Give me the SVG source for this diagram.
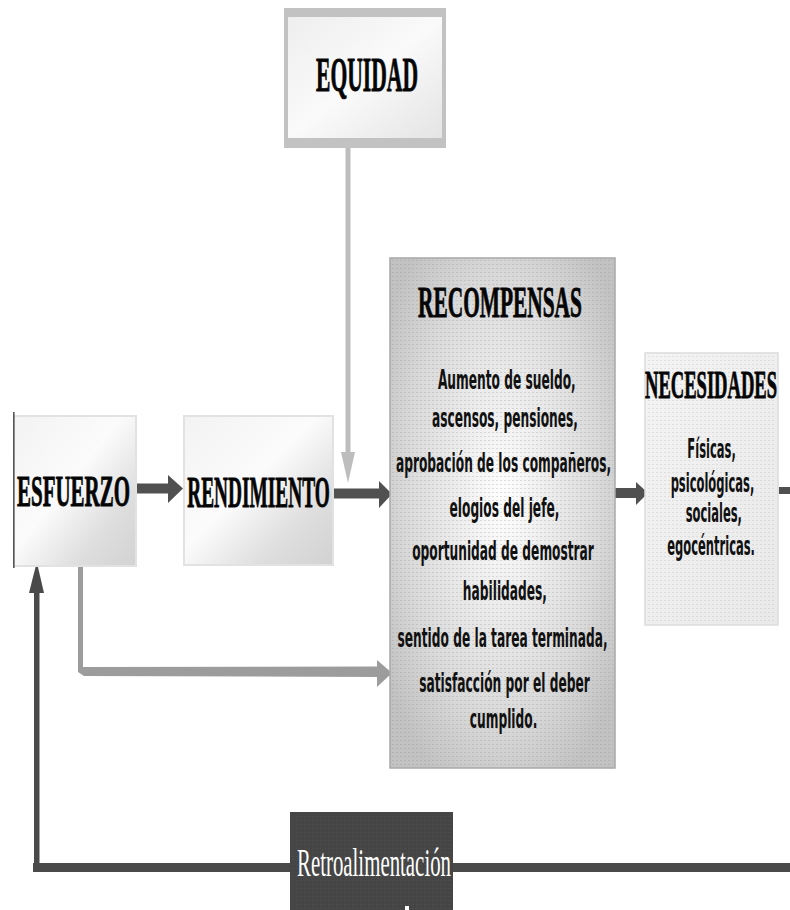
<svg xmlns="http://www.w3.org/2000/svg" width="790" height="910" viewBox="0 0 790 910">
  <style>
    .title { font-family: "Liberation Serif", "Times New Roman", serif; font-weight: bold; fill: #050505; stroke: #050505; stroke-width: 0.9; text-anchor: middle; }
    .body { font-family: "DejaVu Sans", sans-serif; font-weight: bold; font-size: 26px; fill: #111; text-anchor: middle; }
    .retro { font-family: "Liberation Serif", "Times New Roman", serif; font-size: 39px; fill: #ffffff; text-anchor: middle; }
    .dark { fill: #505050; }
    .light { fill: #bdbdbd; }
    .mid { fill: #9c9c9c; }
  </style>
  <defs>
    <linearGradient id="gBox" x1="0" y1="0" x2="1" y2="1">
      <stop offset="0" stop-color="#f3f3f3"/>
      <stop offset="0.45" stop-color="#fbfbfb"/>
      <stop offset="0.75" stop-color="#dedede"/>
      <stop offset="1" stop-color="#d2d2d2"/>
    </linearGradient>
    <linearGradient id="gEq" x1="0" y1="0" x2="1" y2="1">
      <stop offset="0" stop-color="#eeeeee"/>
      <stop offset="0.5" stop-color="#fafafa"/>
      <stop offset="1" stop-color="#e4e4e4"/>
    </linearGradient>
    <radialGradient id="gRec" cx="0.5" cy="0.47" r="0.62">
      <stop offset="0" stop-color="#ffffff"/>
      <stop offset="0.25" stop-color="#f1f1f1"/>
      <stop offset="0.7" stop-color="#d9d9d9"/>
      <stop offset="1" stop-color="#c2c2c2"/>
    </radialGradient>
    <linearGradient id="gNec" x1="0" y1="0" x2="1" y2="1">
      <stop offset="0" stop-color="#f4f4f4"/>
      <stop offset="1" stop-color="#e9e9e9"/>
    </linearGradient>
    <pattern id="dots" width="4" height="4" patternUnits="userSpaceOnUse">
      <rect width="2" height="1" fill="#8a8a8a" opacity="0.28"/>
    </pattern>
    <pattern id="dotsDark" width="4" height="4" patternUnits="userSpaceOnUse">
      <rect width="2" height="1" fill="#666" opacity="0.5"/>
    </pattern>
  </defs>

  <rect width="790" height="910" fill="#ffffff"/>

  <g id="connectors">
    <rect x="345.5" y="147" width="5" height="308" class="light"/>
    <polygon points="341,452 355,452 348,483" class="light"/>
    <rect x="135" y="483.5" width="35" height="10" class="dark"/>
    <polygon points="168,475 183,488.5 168,503" class="dark"/>
    <rect x="333" y="488.5" width="48" height="10" class="dark"/>
    <polygon points="379,481 392,494 379,508" class="dark"/>
    <rect x="615" y="488" width="23" height="10" class="dark"/>
    <polygon points="636,482 648,493 636,505" class="dark"/>
    <rect x="779" y="487" width="11" height="7" class="dark"/>
    <polygon points="78,565 83,565 83,667 378,666.5 378,677 84,676 78,672" class="mid"/>
    <polygon points="377,660 392,673 377,687" class="mid"/>
    <rect x="33" y="863" width="757" height="9" fill="#4a4a4a"/>
    <rect x="34" y="590" width="5.5" height="282" fill="#4a4a4a"/>
    <polygon points="29,593 36.8,562 44,593" fill="#4a4a4a"/>
  </g>

  <g id="node-equidad">
    <rect x="284" y="8" width="162" height="140" fill="#c2c2c2"/>
    <rect x="288" y="17" width="154" height="121" fill="url(#gEq)"/>
    <text class="title" font-size="48" transform="translate(367,91) scale(0.45,1)">EQUIDAD</text>
  </g>

  <g id="node-esfuerzo">
    <rect x="14" y="416" width="122" height="150" fill="url(#gBox)" stroke="#e2e2e2" stroke-width="2"/>
    <rect x="13" y="412" width="1.6" height="156" fill="#555"/>
    <text class="title" font-size="45" transform="translate(73.5,506) scale(0.466,1)">ESFUERZO</text>
  </g>

  <g id="node-rendimiento">
    <rect x="184" y="416" width="149" height="149" fill="url(#gBox)" stroke="#e2e2e2" stroke-width="2"/>
    <text class="title" font-size="45" transform="translate(258.5,507) scale(0.43,1)">RENDIMIENTO</text>
  </g>

  <g id="node-recompensas">
    <rect x="390" y="258" width="225" height="510" fill="url(#gRec)" stroke="#a8a8a8" stroke-width="1.5"/>
    <rect x="392" y="260" width="221" height="506" fill="url(#dots)"/>
    <text class="title" font-size="45" transform="translate(500,317) scale(0.475,1)">RECOMPENSAS</text>
    <g transform="translate(503.5,0) scale(0.47,1)">
      <text class="body" x="7" y="389">Aumento de sueldo,</text>
      <text class="body" x="3" y="427">ascensos, pensiones,</text>
      <text class="body" x="0" y="472">aprobación de los compañeros,</text>
      <text class="body" x="2" y="517">elogios del jefe,</text>
      <text class="body" x="-1" y="560">oportunidad de demostrar</text>
      <text class="body" x="3" y="600">habilidades,</text>
      <text class="body" x="-2" y="647">sentido de la tarea terminada,</text>
      <text class="body" x="2" y="692">satisfacción por el deber</text>
      <text class="body" x="0" y="728">cumplido.</text>
    </g>
  </g>

  <g id="node-necesidades">
    <rect x="645" y="353" width="133" height="272" fill="url(#gNec)" stroke="#dcdcdc" stroke-width="1.5"/>
    <rect x="647" y="355" width="129" height="268" fill="url(#dots)" opacity="0.7"/>
    <text class="title" font-size="40" transform="translate(711,398) scale(0.464,1)">NECESIDADES</text>
    <g transform="translate(712,0) scale(0.443,1)">
      <text class="body" x="-1" y="458">Físicas,</text>
      <text class="body" x="1" y="492">psicológicas,</text>
      <text class="body" x="4" y="522">sociales,</text>
      <text class="body" x="-2" y="555">egocéntricas.</text>
    </g>
  </g>

  <g id="node-retroalimentacion">
    <rect x="290" y="812" width="163" height="98" fill="#454545"/>
    <rect x="291" y="813" width="161" height="97" fill="url(#dotsDark)" opacity="0.4"/>
    <text class="retro" transform="translate(374,876) scale(0.535,1)">Retroalimentación</text>
    <rect x="405" y="906" width="4" height="4" fill="#ffffff"/>
  </g>
</svg>
